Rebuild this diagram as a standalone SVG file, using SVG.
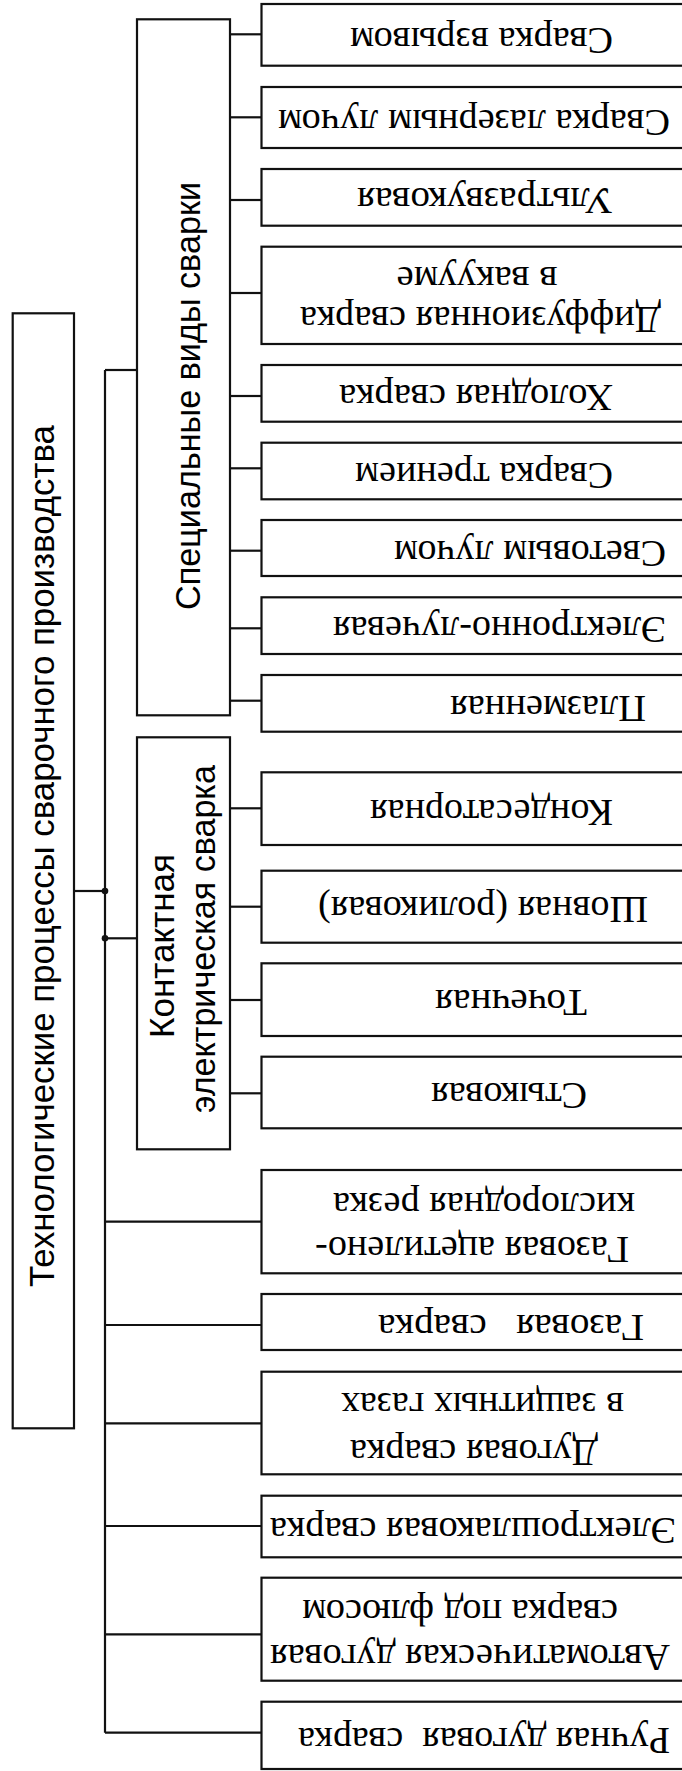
<svg xmlns="http://www.w3.org/2000/svg" width="682" height="1771" viewBox="0 0 682 1771">
<style>
.b{fill:#fff;stroke:#111;stroke-width:2.2}
.c line{stroke:#111;stroke-width:2.2}
.r{font-family:"Liberation Serif","Times New Roman",serif;font-size:38px;fill:#000;text-anchor:middle}
.v{font-family:"Liberation Sans",Arial,sans-serif;font-size:34.5px;fill:#000;text-anchor:middle}
</style>
<rect width="682" height="1771" fill="#fff"/>
<g class="c" id="connectors">
<line x1="105" y1="370" x2="105" y2="1732.7"/>
<line x1="105" y1="370" x2="137" y2="370"/>
<line x1="74" y1="891" x2="105" y2="891"/>
<line x1="105" y1="938.3" x2="137" y2="938.3"/>
<circle cx="105" cy="891" r="3.3" fill="#111"/>
<circle cx="105" cy="938.3" r="3.3" fill="#111"/>
<line x1="230" y1="34.3" x2="261.5" y2="34.3"/>
<line x1="230" y1="117.3" x2="261.5" y2="117.3"/>
<line x1="230" y1="200" x2="261.5" y2="200"/>
<line x1="230" y1="293" x2="261.5" y2="293"/>
<line x1="230" y1="396" x2="261.5" y2="396"/>
<line x1="230" y1="468.3" x2="261.5" y2="468.3"/>
<line x1="230" y1="550.7" x2="261.5" y2="550.7"/>
<line x1="230" y1="628.3" x2="261.5" y2="628.3"/>
<line x1="230" y1="700.7" x2="261.5" y2="700.7"/>
<line x1="230" y1="808.3" x2="261.5" y2="808.3"/>
<line x1="230" y1="906.7" x2="261.5" y2="906.7"/>
<line x1="230" y1="1000" x2="261.5" y2="1000"/>
<line x1="230" y1="1093.3" x2="261.5" y2="1093.3"/>
<line x1="105" y1="1221.7" x2="261.5" y2="1221.7"/>
<line x1="105" y1="1325" x2="261.5" y2="1325"/>
<line x1="105" y1="1423.3" x2="261.5" y2="1423.3"/>
<line x1="105" y1="1526" x2="261.5" y2="1526"/>
<line x1="105" y1="1634.3" x2="261.5" y2="1634.3"/>
<line x1="105" y1="1732.7" x2="261.5" y2="1732.7"/>
</g>
<g id="main"><rect class="b" x="12.7" y="313.3" width="61.3" height="1115"/>
<text class="v" transform="translate(53.5,856) rotate(-90)" textLength="862" lengthAdjust="spacingAndGlyphs">Технологические процессы сварочного производства</text></g>
<g id="special"><rect class="b" x="137" y="19.3" width="93" height="696"/>
<text class="v" transform="translate(200,396) rotate(-90)" textLength="428" lengthAdjust="spacingAndGlyphs">Специальные виды сварки</text></g>
<g id="contact"><rect class="b" x="137" y="737.3" width="93" height="412"/>
<text class="v" transform="translate(173.5,946) rotate(-90)" textLength="184" lengthAdjust="spacingAndGlyphs">Контактная</text>
<text class="v" transform="translate(215,939) rotate(-90)" textLength="348" lengthAdjust="spacingAndGlyphs">электрическая сварка</text></g>
<g id="n1"><rect class="b" x="261.5" y="4" width="440" height="61.7"/><text class="r" transform="translate(481.5,28.3) rotate(180)" textLength="263" lengthAdjust="spacingAndGlyphs">Сварка взрывом</text></g>
<g id="n2"><rect class="b" x="261.5" y="87" width="440" height="61"/><text class="r" transform="translate(474,110) rotate(180)" textLength="392" lengthAdjust="spacingAndGlyphs">Сварка лазерным лучом</text></g>
<g id="n3"><rect class="b" x="261.5" y="169" width="440" height="56.7"/><text class="r" transform="translate(485,188) rotate(180)" textLength="256" lengthAdjust="spacingAndGlyphs">Ультразвуковая</text></g>
<g id="n4"><rect class="b" x="261.5" y="246.7" width="440" height="97.3"/><text class="r" transform="translate(480.5,307) rotate(180)" textLength="361" lengthAdjust="spacingAndGlyphs">Диффузионная сварка</text><text class="r" transform="translate(477,267) rotate(180)" textLength="161" lengthAdjust="spacingAndGlyphs">в вакууме</text></g>
<g id="n5"><rect class="b" x="261.5" y="365" width="440" height="56.7"/><text class="r" transform="translate(476,385) rotate(180)" textLength="274" lengthAdjust="spacingAndGlyphs">Холодная сварка</text></g>
<g id="n6"><rect class="b" x="261.5" y="442.7" width="440" height="56.6"/><text class="r" transform="translate(484,463) rotate(180)" textLength="258" lengthAdjust="spacingAndGlyphs">Сварка трением</text></g>
<g id="n7"><rect class="b" x="261.5" y="520" width="440" height="56"/><text class="r" transform="translate(530,541) rotate(180)" textLength="272" lengthAdjust="spacingAndGlyphs">Световым лучом</text></g>
<g id="n8"><rect class="b" x="261.5" y="597.3" width="440" height="56.7"/><text class="r" transform="translate(499.5,617) rotate(180)" textLength="333" lengthAdjust="spacingAndGlyphs">Электронно-лучевая</text></g>
<g id="n9"><rect class="b" x="261.5" y="675" width="440" height="56.7"/><text class="r" transform="translate(548,696) rotate(180)" textLength="196" lengthAdjust="spacingAndGlyphs">Плазменная</text></g>
<g id="n10"><rect class="b" x="261.5" y="772.3" width="440" height="72.7"/><text class="r" transform="translate(491.5,800) rotate(180)" textLength="243" lengthAdjust="spacingAndGlyphs">Кондесаторная</text></g>
<g id="n11"><rect class="b" x="261.5" y="870.7" width="440" height="72"/><text class="r" transform="translate(483,897) rotate(180)" textLength="330" lengthAdjust="spacingAndGlyphs">Шовная (роликовая)</text></g>
<g id="n12"><rect class="b" x="261.5" y="963.3" width="440" height="72.7"/><text class="r" transform="translate(511,990) rotate(180)" textLength="152" lengthAdjust="spacingAndGlyphs">Точечная</text></g>
<g id="n13"><rect class="b" x="261.5" y="1056.7" width="440" height="71.6"/><text class="r" transform="translate(509,1083) rotate(180)" textLength="156" lengthAdjust="spacingAndGlyphs">Стыковая</text></g>
<g id="n14"><rect class="b" x="261.5" y="1170" width="440" height="103.3"/><text class="r" transform="translate(472,1237) rotate(180)" textLength="314" lengthAdjust="spacingAndGlyphs">Газовая ацетилено-</text><text class="r" transform="translate(484,1193) rotate(180)" textLength="302" lengthAdjust="spacingAndGlyphs">кислородная резка</text></g>
<g id="n15"><rect class="b" x="261.5" y="1294" width="440" height="56"/><text class="r" xml:space="preserve" transform="translate(511,1315) rotate(180)" textLength="266" lengthAdjust="spacingAndGlyphs">Газовая   сварка</text></g>
<g id="n16"><rect class="b" x="261.5" y="1371.7" width="440" height="102.6"/><text class="r" transform="translate(474,1440) rotate(180)" textLength="248" lengthAdjust="spacingAndGlyphs">Дуговая сварка</text><text class="r" transform="translate(482.5,1393) rotate(180)" textLength="283" lengthAdjust="spacingAndGlyphs">в защитных газах</text></g>
<g id="n17"><rect class="b" x="261.5" y="1495.7" width="440" height="61.6"/><text class="r" transform="translate(473,1518) rotate(180)" textLength="406" lengthAdjust="spacingAndGlyphs">Электрошлаковая сварка</text></g>
<g id="n18"><rect class="b" x="261.5" y="1577.7" width="440" height="103"/><text class="r" transform="translate(470,1645) rotate(180)" textLength="400" lengthAdjust="spacingAndGlyphs">Автоматическая дуговая</text><text class="r" transform="translate(460,1600) rotate(180)" textLength="316" lengthAdjust="spacingAndGlyphs">сварка под флюсом</text></g>
<g id="n19"><rect class="b" x="261.5" y="1701.7" width="440" height="67.3"/><text class="r" xml:space="preserve" transform="translate(484,1728) rotate(180)" textLength="372" lengthAdjust="spacingAndGlyphs">Ручная дуговая  сварка</text></g>
</svg>
